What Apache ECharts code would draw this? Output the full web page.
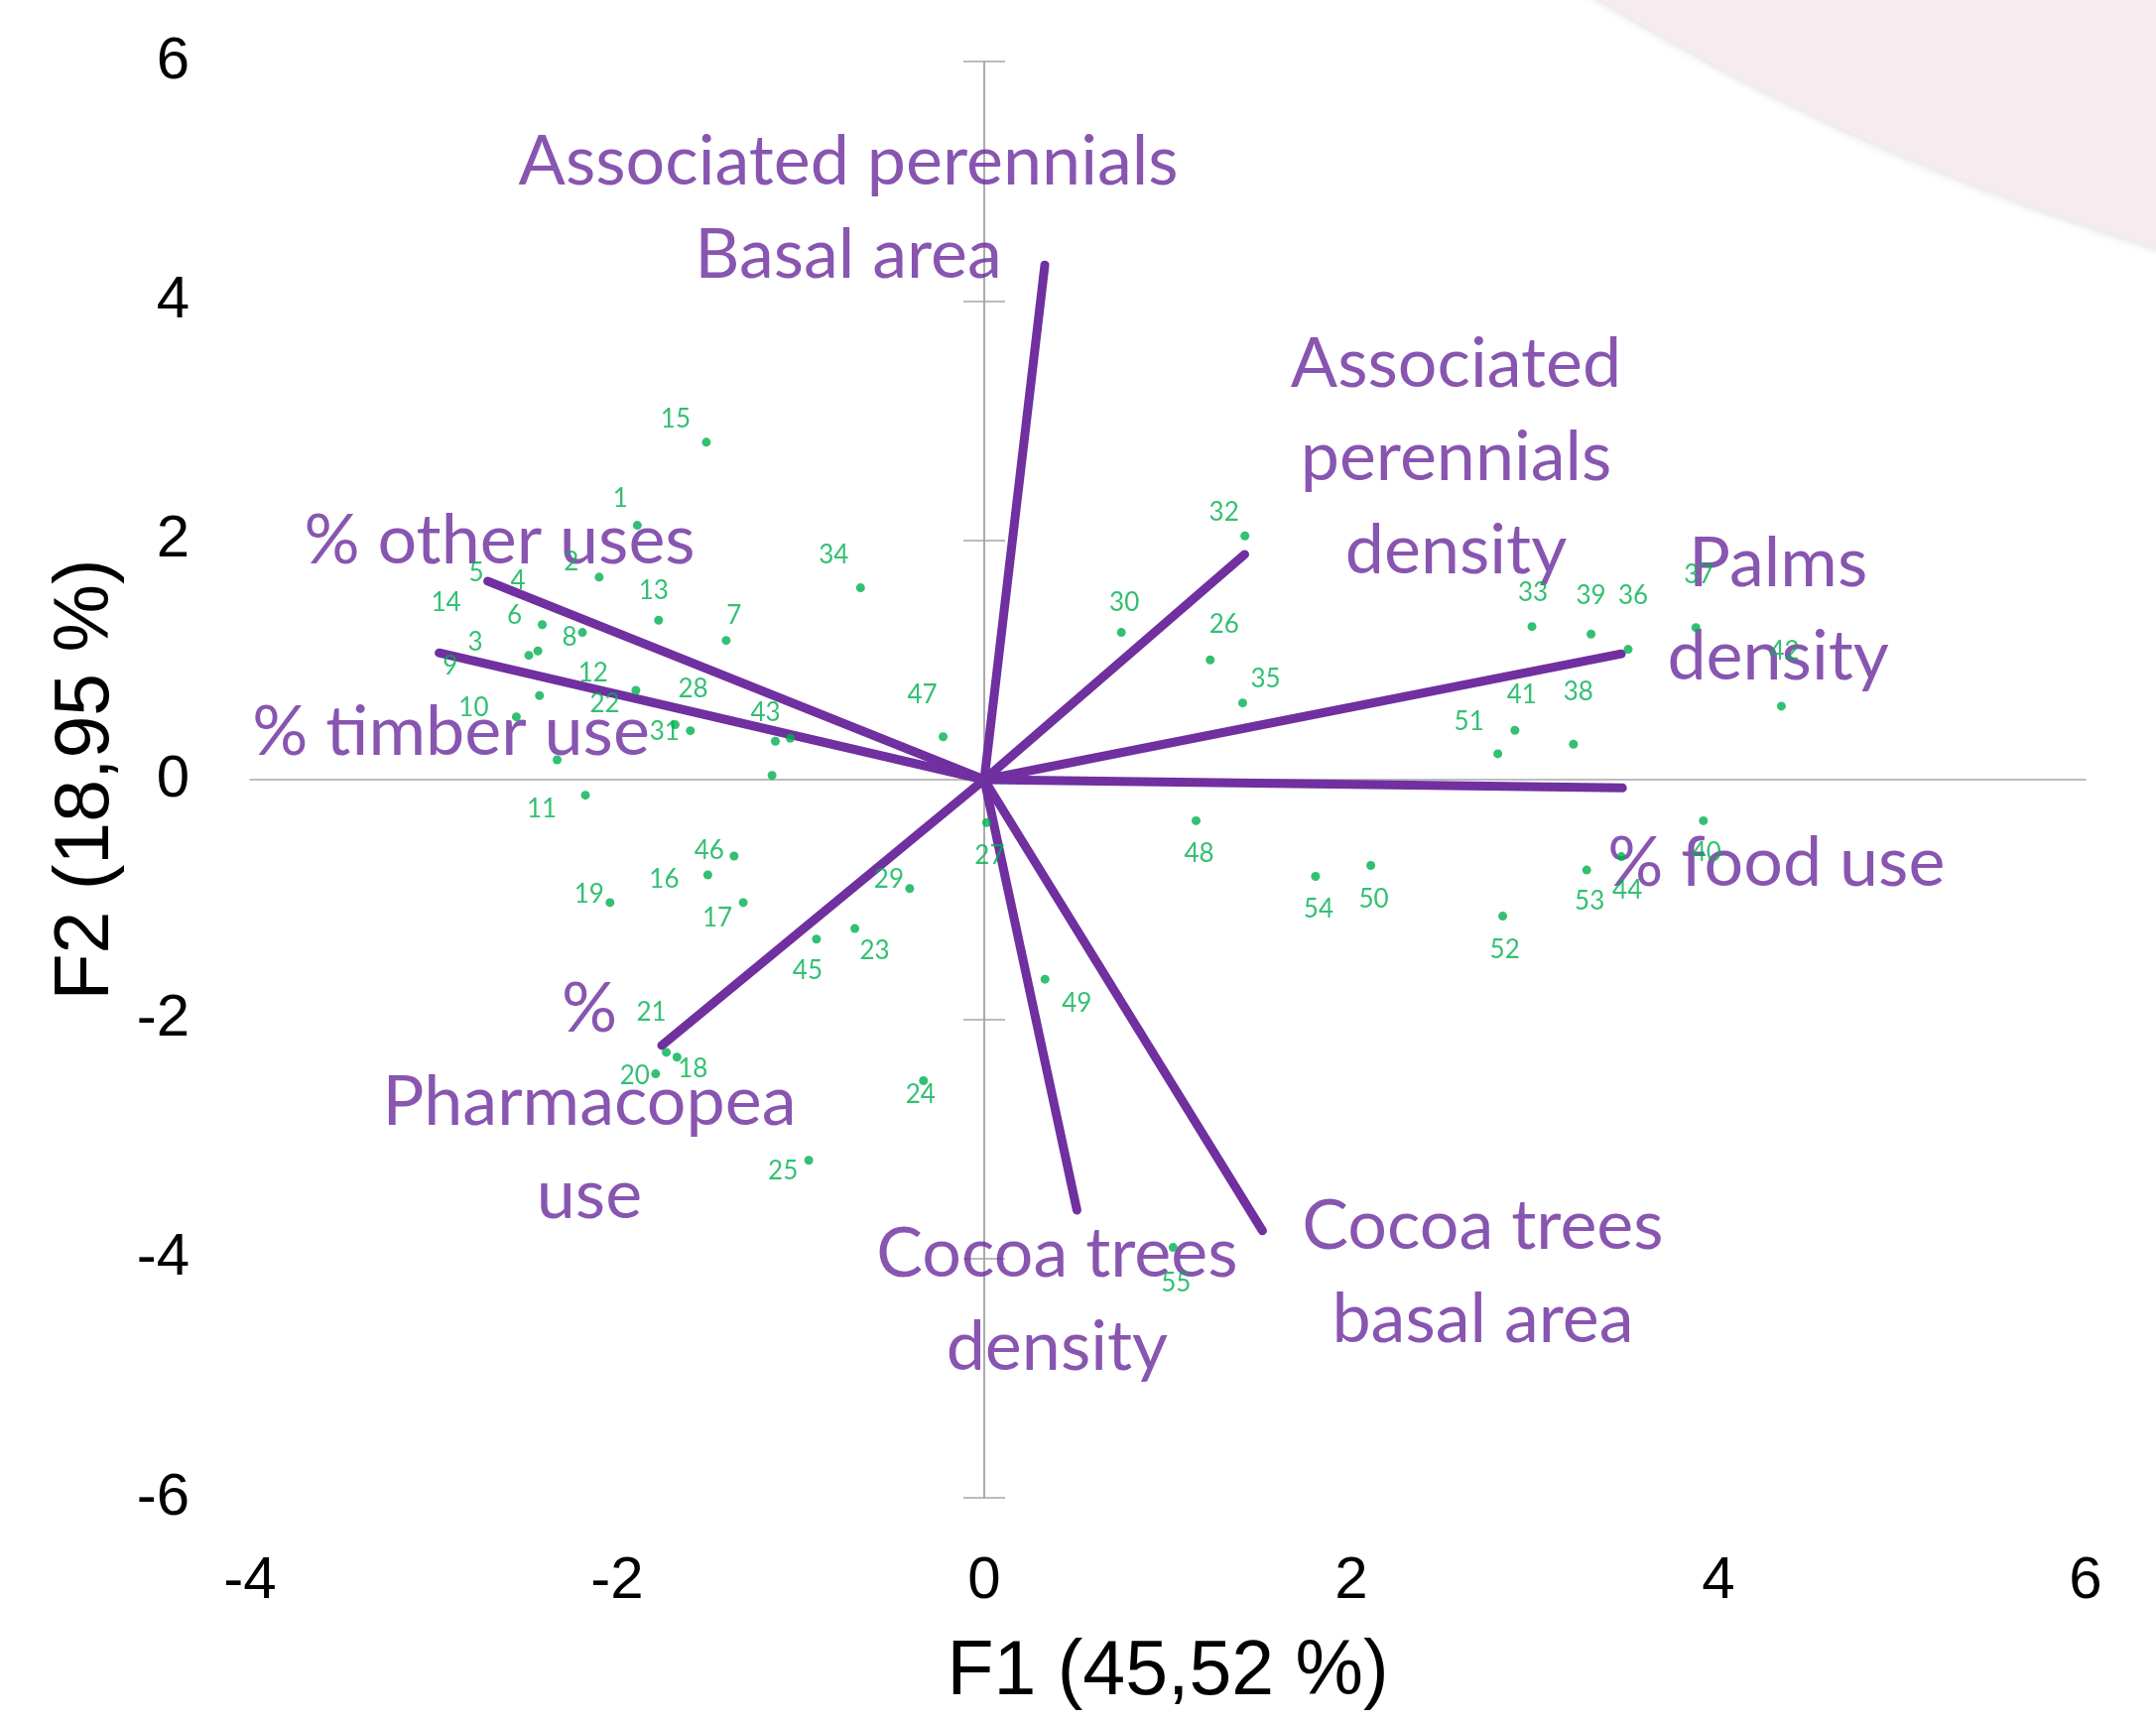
<!DOCTYPE html>
<html>
<head>
<meta charset="utf-8">
<script src="https://cdn.jsdelivr.net/npm/echarts@6/dist/echarts.min.js"></script>
<style>
html,body{margin:0;padding:0;background:#ffffff;}
#chart{width:2173px;height:1734px;}
</style>
</head>
<body>
<div id="chart"></div>
<script>
// ---------------- DATA ----------------
const obsIds = [1,2,3,4,5,6,7,8,9,10,11,12,13,14,15,16,17,18,19,20,21,22,23,24,25,26,27,28,29,30,31,32,33,34,35,36,37,38,39,40,41,42,43,44,45,46,47,48,49,50,51,52,53,54,55];
const obsF1 = [-1.890,-2.098,-2.481,-2.432,-1.156,-2.408,-1.406,-2.189,-2.423,-2.549,-2.173,-1.898,-1.774,-2.327,-1.514,-1.506,-1.313,-1.674,-2.039,-1.790,-1.732,-1.057,-0.705,-0.331,-0.956,1.231,0.013,-1.684,-0.406,0.747,-1.601,1.420,2.984,-0.674,1.408,3.508,3.877,3.210,3.306,3.918,2.891,4.343,-1.138,3.471,-0.914,-1.363,-0.224,1.154,0.331,2.106,2.798,2.825,3.282,1.805,1.029];
const obsF2 = [2.125,1.692,1.039,1.075,0.036,1.295,1.163,1.230,0.702,0.525,-0.130,0.746,1.332,0.166,2.819,-0.796,-1.027,-2.318,-1.027,-2.458,-2.278,0.346,-1.244,-2.515,-3.180,1.001,-0.358,0.459,-0.910,1.230,0.409,2.037,1.279,1.603,0.641,1.089,1.271,0.296,1.216,-0.343,0.412,0.614,0.321,-0.643,-1.332,-0.638,0.358,-0.343,-1.667,-0.717,0.216,-1.140,-0.755,-0.808,-3.908];

const varNames = ['Associated perennials\nBasal area','Associated\nperennials\ndensity','Palms\ndensity','% food use','Cocoa trees\nbasal area','Cocoa trees\ndensity','%\nPharmacopea\nuse','% other uses','% timber use'];
const varF1 = [0.330, 1.419, 3.471, 3.477, 1.516, 0.505, -1.757, -2.705, -2.970];
const varF2 = [4.300, 1.882, 1.051, -0.069, -3.769, -3.597, -2.221, 1.658, 1.059];

const xTicks = [-4,-2,0,2,4,6];
const yTicks = [-6,-4,-2,0,2,4,6];
const xTitle = 'F1 (45,52 %)';
const yTitle = 'F2 (18,95 %)';

// ---------------- STYLE ----------------
const PURPLE = '#7030A0';
const PURPLE_TEXT = '#6A2A9C';
const GREEN = '#00B050';
const AXIS = '#A6A6A6';
const TICKFONT = 'Liberation Sans';
const LABELFONT = 'Lato';

// label placement nudges (px) relative to each mark
const obsLabelNudge = {
  1:[-17,-27],2:[-28,-15],3:[-54,-13],4:[-20,-71],5:[-298,-204],6:[-28,-9],7:[8,-25],8:[-13,5],
  9:[-90,-30],10:[-43,-9],11:[-44,14],12:[-43,-17],13:[-5,-30],14:[-112,-158],15:[-31,-23],
  16:[-44,5],17:[-26,16],18:[16,12],19:[-21,-8],20:[-21,2],21:[-15,-40],22:[-187,-35],
  23:[20,23],24:[-3,14],25:[-26,11],26:[14,-36],27:[3,33],28:[18,-36],29:[-21,-9],30:[3,-30],
  31:[-26,1],32:[-21,-24],33:[1,-34],34:[-27,-33],35:[23,-24],36:[5,-54],37:[3,-53],38:[5,-53],
  39:[0,-39],40:[3,32],41:[7,-36],42:[3,-55],43:[-10,-29],44:[6,34],45:[-9,32],46:[-25,-5],
  47:[-21,-42],48:[3,33],49:[32,24],50:[3,34],51:[-29,-32],52:[2,34],53:[3,32],54:[3,33],55:[3,36]
};
const varLabelNudge = [[-198,-57],[213,-97],[158,-44],[155,76],[222,43],[-20,91],[-73,57],[12,-41],[12,80]];

// ---------------- CHART ----------------
const chart = echarts.init(document.getElementById('chart'), null, {renderer:'canvas'});

const xMin = xTicks[0], xMax = xTicks[xTicks.length-1], xStep = xTicks[1]-xTicks[0];
const yMin = yTicks[0], yMax = yTicks[yTicks.length-1], yStep = yTicks[1]-yTicks[0];

const baseX = {type:'value', min:xMin, max:xMax, interval:xStep, splitLine:{show:false}};
const baseY = {type:'value', min:yMin, max:yMax, interval:yStep, splitLine:{show:false}};

const vectorSeries = varNames.map((n,i)=>({
  type:'line', xAxisIndex:0, yAxisIndex:0, silent:true,
  data:[[0,0],[varF1[i],varF2[i]]],
  symbol:'none', showSymbol:false,
  lineStyle:{color:PURPLE, width:9, cap:'round'},
  z:2
}));

const option = {
  animation:false,
  backgroundColor:'#ffffff',
  graphic:[{
    type:'circle', silent:true, z:-1,
    shape:{cx:2855, cy:-2034, r:2383},
    style:{fill:'#F6EBEF', shadowBlur:8, shadowColor:'rgba(0,0,0,0.12)', shadowOffsetY:2}
  }],
  grid:{left:252, right:71, top:62, bottom:224, containLabel:false, outerBoundsMode:'none'},
  xAxis:[
    Object.assign({}, baseX, {
      position:'bottom',
      axisLine:{show:false, onZero:false}, axisTick:{show:false},
      axisLabel:{fontFamily:TICKFONT, fontSize:60, color:'#000', margin:54},
      name:xTitle, nameLocation:'middle', nameGap:138,
      nameTextStyle:{fontFamily:TICKFONT, fontSize:77, color:'#000'}
    }),
    Object.assign({}, baseX, {
      position:'bottom',
      axisLine:{show:true, onZero:true, onZeroAxisIndex:0, lineStyle:{color:AXIS, width:1.5}},
      axisTick:{show:false}, axisLabel:{show:false}
    })
  ],
  yAxis:[
    Object.assign({}, baseY, {
      position:'left',
      axisLine:{show:false, onZero:false}, axisTick:{show:false},
      axisLabel:{fontFamily:TICKFONT, fontSize:60, color:'#000', margin:61},
      name:yTitle, nameLocation:'middle', nameGap:122,
      nameTextStyle:{fontFamily:TICKFONT, fontSize:77, color:'#000'}
    }),
    Object.assign({}, baseY, {
      position:'left',
      axisLine:{show:true, onZero:true, onZeroAxisIndex:0, lineStyle:{color:AXIS, width:1.5}},
      axisTick:{show:true, length:21, lineStyle:{color:AXIS, width:1.5}},
      axisLabel:{show:false}
    }),
    Object.assign({}, baseY, {
      position:'right',
      axisLine:{show:true, onZero:true, onZeroAxisIndex:0, lineStyle:{color:AXIS, width:1.5}},
      axisTick:{show:true, length:21, lineStyle:{color:AXIS, width:1.5}},
      axisLabel:{show:false}
    })
  ],
  series: vectorSeries.concat([
    {
      type:'scatter', xAxisIndex:0, yAxisIndex:0, silent:true,
      symbolSize:1, itemStyle:{color:'rgba(0,0,0,0)'},
      data: varNames.map((n,i)=>({name:n, value:[varF1[i],varF2[i]], label:{offset:varLabelNudge[i]}})),
      label:{show:true, position:'inside', formatter:'{b}', fontFamily:LABELFONT, fontSize:70, lineHeight:94,
             color:PURPLE_TEXT, align:'center', verticalAlign:'middle'},
      z:3
    },
    {
      type:'scatter', xAxisIndex:0, yAxisIndex:0, silent:true,
      symbol:'circle', symbolSize:9, itemStyle:{color:GREEN},
      data: obsIds.map((id,i)=>({name:String(id), value:[obsF1[i],obsF2[i]], label:{offset:obsLabelNudge[id]}})),
      label:{show:true, position:'inside', formatter:'{b}', fontFamily:LABELFONT, fontSize:26,
             color:GREEN, align:'center', verticalAlign:'middle'},
      z:4
    }
  ])
};
chart.setOption(option);
</script>
</body>
</html>
